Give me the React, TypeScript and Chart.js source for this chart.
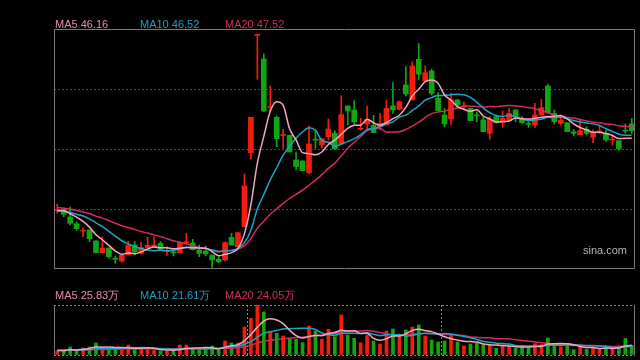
import React, { useEffect, useRef } from 'react';
import { Chart, registerables } from 'chart.js';

Chart.register(...registerables);

// ---- data (prices in yuan, volumes in 万) ----
const categories: string[] = Array.from({ length: 90 }, (_, i) => String(i + 1));

const opens = [
  37.31, 37.50, 36.50, 35.66, 34.73, 34.88, 33.50, 32.04, 32.63, 31.27,
  30.99, 31.75, 33.00, 31.96, 32.63, 32.79, 33.21, 32.17, 32.06, 32.04,
  33.29, 33.25, 32.38, 32.25, 31.75, 31.21, 31.13, 33.96, 32.79, 35.29,
  44.54, 59.20, 56.25, 50.18, 48.96, 46.68, 46.71, 43.63, 43.50, 42.06,
  46.15, 45.50, 46.54, 46.96, 45.63, 50.38, 49.88, 47.46, 48.13, 47.96,
  47.79, 48.00, 50.38, 49.96, 53.00, 51.13, 56.21, 53.54, 54.75, 51.34,
  49.25, 48.75, 51.13, 50.26, 50.09, 49.19, 48.63, 46.96, 49.04, 48.29,
  48.63, 49.88, 48.71, 48.11, 48.00, 49.25, 52.88, 49.46, 48.21, 48.29,
  47.16, 46.75, 47.46, 46.46, 47.13, 46.96, 46.10, 46.04, 47.28, 48.13,
];
const closes = [
  37.38, 36.84, 35.71, 35.04, 34.79, 33.79, 32.04, 32.63, 31.54, 31.22,
  31.71, 32.96, 32.16, 32.66, 32.96, 33.00, 32.46, 32.21, 32.01, 33.29,
  33.41, 32.41, 31.96, 31.88, 31.13, 30.91, 33.29, 33.00, 34.54, 40.38,
  48.96, 59.25, 49.75, 50.21, 46.29, 46.71, 44.63, 42.81, 42.29, 45.63,
  46.10, 46.29, 47.50, 45.00, 49.29, 49.75, 48.38, 47.50, 48.71, 47.04,
  48.21, 50.09, 49.88, 50.91, 51.88, 55.38, 54.34, 54.54, 51.96, 49.79,
  48.13, 51.13, 50.50, 50.29, 48.54, 49.14, 47.16, 48.71, 48.29, 48.84,
  49.46, 49.04, 48.29, 48.06, 49.25, 50.16, 49.54, 48.41, 48.63, 47.16,
  46.96, 47.29, 46.96, 47.04, 47.19, 46.13, 46.15, 45.00, 47.23, 47.29,
];
const highs = [
  38.13, 37.66, 37.75, 35.91, 35.16, 34.88, 33.56, 34.04, 32.63, 31.63,
  31.88, 33.46, 33.46, 33.29, 33.96, 34.04, 33.44, 32.79, 32.29, 33.44,
  34.46, 33.71, 33.00, 32.88, 31.75, 31.54, 33.41, 34.46, 34.54, 41.88,
  48.96, 59.25, 56.88, 52.88, 49.13, 47.46, 46.75, 44.63, 43.56, 47.88,
  47.38, 46.29, 48.75, 47.29, 51.66, 50.38, 51.04, 48.84, 50.38, 49.21,
  49.46, 51.13, 53.29, 51.00, 55.29, 55.91, 58.21, 55.38, 55.00, 52.04,
  50.09, 51.96, 51.21, 50.91, 50.09, 49.66, 49.04, 49.04, 49.25, 49.75,
  50.09, 49.96, 49.04, 48.41, 50.71, 51.21, 53.13, 49.88, 49.25, 48.29,
  47.46, 48.71, 47.79, 47.38, 48.00, 47.38, 46.75, 46.04, 48.13, 48.84,
];
const lows = [
  37.00, 36.54, 35.50, 34.79, 34.04, 33.41, 32.00, 32.04, 31.34, 30.71,
  30.84, 31.75, 31.75, 31.84, 32.54, 32.79, 32.38, 31.71, 31.63, 32.04,
  33.21, 32.38, 31.54, 31.63, 30.21, 30.79, 31.00, 33.00, 32.79, 35.29,
  43.71, 53.71, 49.66, 49.66, 45.29, 45.09, 44.63, 42.38, 42.29, 41.88,
  45.09, 45.09, 46.13, 45.00, 45.63, 48.00, 48.09, 47.38, 47.38, 47.04,
  47.38, 48.00, 49.46, 49.88, 51.63, 51.13, 53.63, 53.54, 51.75, 49.79,
  47.79, 48.00, 50.29, 49.88, 48.54, 48.41, 47.16, 46.21, 48.21, 47.71,
  48.63, 48.41, 48.21, 47.71, 47.71, 49.25, 49.46, 48.13, 48.00, 47.16,
  46.63, 46.75, 46.75, 45.79, 46.96, 45.91, 45.50, 44.84, 46.96, 46.96,
];
const volumes = [
  10.6, 11.4, 21.3, 13.3, 18.6, 21.3, 31.9, 19.4, 15.2, 13.3,
  19.4, 26.6, 15.2, 16.8, 16.8, 13.3, 10.6, 10.6, 10.6, 26.6,
  26.6, 16.8, 13.3, 16.8, 23.9, 13.3, 37.2, 31.9, 31.9, 74.5,
  97.6, 133.0, 114.4, 62.0, 57.7, 50.5, 44.4, 41.8, 32.7, 77.1,
  63.8, 41.8, 68.4, 48.7, 106.4, 53.2, 44.4, 32.7, 53.2, 37.2,
  29.3, 63.8, 69.2, 53.2, 66.5, 74.5, 79.8, 50.5, 39.9, 34.6,
  37.2, 53.2, 34.6, 23.9, 29.3, 31.1, 26.6, 26.6, 17.8, 23.9,
  23.9, 17.8, 22.0, 20.0, 30.0, 28.0, 45.0, 28.0, 22.0, 28.0,
  14.0, 22.0, 15.0, 20.0, 16.0, 20.0, 15.0, 24.0, 44.0, 26.0,
];
// sessions before the visible window, estimated from where the averages start
const priorCloses = [
  38.4, 38.1, 38.6, 38.2, 37.9, 38.3, 37.8, 38.0, 37.6, 37.9,
  37.4, 37.1, 37.5, 36.9, 37.3, 37.0, 37.6, 37.2, 37.4,
];
const priorVolumes = [
  12, 15, 11, 14, 13, 16, 12, 10, 14, 13, 11, 15, 12, 14, 10, 13, 12, 14, 11,
];
const priceLegend = ['MA5 46.16', 'MA10 46.52', 'MA20 47.52'];
const volumeLegend = ['MA5 25.83万', 'MA10 21.61万', 'MA20 24.05万'];

// ---- styling ----
const UP = '#f51c0e';
const DOWN = '#12a512';
const MA_COLORS = ['#f2a7bf', '#1fa2c6', '#cf2c62'];
const LABEL_COLORS = ['#e58aa6', '#1f9fc2', '#d02a5f'];

function movingAverage(values: number[], prior: number[], n: number): number[] {
  const all = [...prior, ...values];
  return values.map((_, i) => {
    const end = prior.length + i + 1;
    const win = all.slice(Math.max(0, end - n), end);
    return win.reduce((a, b) => a + b, 0) / win.length;
  });
}

function makeFrame(id: string, full: boolean, color: string) {
  return {
    id,
    afterDatasetsDraw(chart: any) {
      const { ctx, chartArea: a } = chart;
      ctx.save();
      ctx.strokeStyle = color;
      ctx.lineWidth = 1;
      const l = Math.round(a.left) + 0.5;
      const r = Math.round(a.right) - 0.5;
      const t = Math.round(a.top) + 0.5;
      const b = Math.round(a.bottom) - 0.5;
      ctx.beginPath();
      if (full) {
        ctx.rect(l, t, r - l, b - t);
      } else {
        ctx.moveTo(l, t);
        ctx.lineTo(l, b);
        ctx.moveTo(r, t);
        ctx.lineTo(r, b);
      }
      ctx.stroke();
      ctx.restore();
    },
  };
}

export default function App() {
  const priceRef = useRef<HTMLCanvasElement>(null);
  const volRef = useRef<HTMLCanvasElement>(null);

  useEffect(() => {
    const colors = closes.map((c, i) => (c >= opens[i] ? UP : DOWN));
    const ma = [5, 10, 20].map((n) => movingAverage(closes, priorCloses, n));
    const vma = [5, 10, 20].map((n) => movingAverage(volumes, priorVolumes, n));

    const lineDs = (data: number[], i: number) => ({
      type: 'line' as const,
      data,
      borderColor: MA_COLORS[i],
      borderWidth: 1.5,
      pointRadius: 0,
      cubicInterpolationMode: 'monotone' as const,
      order: 0,
    });

    const priceChart = new Chart(priceRef.current!, {
      type: 'bar',
      data: {
        labels: categories,
        datasets: [
          {
            type: 'bar',
            data: lows.map((l, i) => [l, highs[i]]) as any,
            backgroundColor: colors,
            barThickness: 1,
            grouped: false,
            minBarLength: 1,
            order: 3,
          } as any,
          {
            type: 'bar',
            data: opens.map((o, i) => [o, closes[i]]) as any,
            backgroundColor: colors,
            barThickness: 5,
            grouped: false,
            minBarLength: 1,
            order: 2,
          } as any,
          ...ma.map((d, i) => lineDs(d, i)),
        ],
      },
      options: {
        animation: false,
        responsive: false,
        events: [],
        layout: { padding: { left: 54, right: 5, top: 29, bottom: 11 } },
        plugins: { legend: { display: false }, tooltip: { enabled: false } },
        scales: {
          x: { type: 'category', display: false, offset: true },
          y: {
            min: 30,
            max: 60,
            ticks: { display: false, stepSize: 7.5 },
            grid: {
              drawTicks: false,
              color: (ctx: any) =>
                ctx.tick && (ctx.tick.value === 30 || ctx.tick.value === 60) ? 'rgba(0,0,0,0)' : '#4d4d4d',
            },
            border: { display: false, dash: [2, 2] },
          },
        },
      },
      plugins: [makeFrame('priceFrame', true, '#7a7a7a')],
    } as any);

    const volChart = new Chart(volRef.current!, {
      type: 'bar',
      data: {
        labels: categories,
        datasets: [
          {
            type: 'bar',
            data: volumes,
            backgroundColor: colors,
            barThickness: 3,
            grouped: false,
            order: 2,
          } as any,
          ...vma.map((d, i) => lineDs(d, i)),
        ],
      },
      options: {
        animation: false,
        responsive: false,
        events: [],
        layout: { padding: { left: 54, right: 5, top: 25, bottom: 5 } },
        plugins: { legend: { display: false }, tooltip: { enabled: false } },
        scales: {
          x: {
            type: 'category',
            offset: true,
            ticks: { display: false, autoSkip: false },
            grid: {
              offset: true,
              drawTicks: false,
              color: (ctx: any) => (ctx.index === 30 || ctx.index === 60 ? '#8a8a8a' : 'rgba(0,0,0,0)'),
            },
            border: { display: false, dash: [2, 2] },
          },
          y: {
            min: 0,
            max: 133,
            ticks: { display: false, stepSize: 133 },
            grid: { drawTicks: false, color: '#8a8a8a' },
            border: { display: false, dash: [2, 2] },
          },
        },
      },
      plugins: [makeFrame('volFrame', false, '#7a7a7a')],
    } as any);

    return () => {
      priceChart.destroy();
      volChart.destroy();
    };
  }, []);

  const labelStyle = (left: number, top: number, color: string): React.CSSProperties => ({
    position: 'absolute',
    left,
    top,
    color,
    fontSize: 11,
    lineHeight: '12px',
    whiteSpace: 'nowrap',
  });

  return (
    <div
      style={{
        position: 'fixed',
        left: 0,
        top: 0,
        width: 640,
        height: 360,
        background: '#000',
        overflow: 'hidden',
        fontFamily: '"Liberation Sans", Arial, sans-serif',
      }}
    >
      <canvas ref={priceRef} width={640} height={280} style={{ position: 'absolute', left: 0, top: 0 }} />
      <canvas ref={volRef} width={640} height={80} style={{ position: 'absolute', left: 0, top: 280 }} />
      {priceLegend.map((t, i) => (
        <span key={'p' + i} style={labelStyle(55 + i * 85, 17.5, LABEL_COLORS[i])}>
          {t}
        </span>
      ))}
      {volumeLegend.map((t, i) => (
        <span key={'v' + i} style={labelStyle(55 + i * 85, 288.5, LABEL_COLORS[i])}>
          {t}
        </span>
      ))}
      <span style={labelStyle(583, 244, '#b4b4b4')}>sina.com</span>
    </div>
  );
}
